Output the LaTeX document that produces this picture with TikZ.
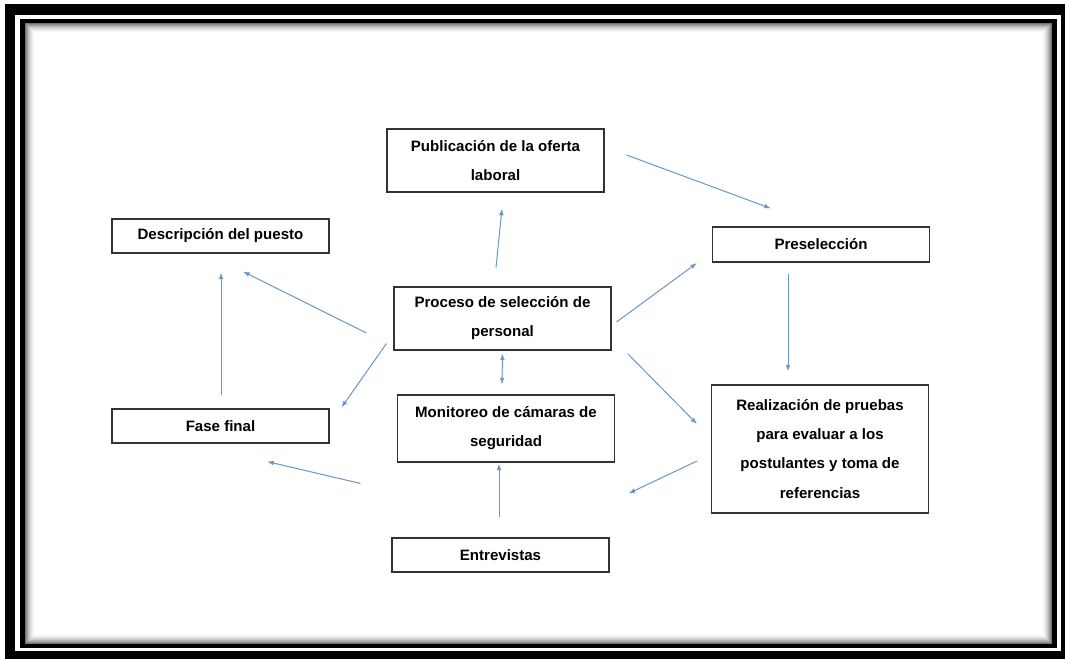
\documentclass[tikz,border=0pt]{standalone}
\usepackage{fontspec}
\setmainfont{Liberation Sans}
\usetikzlibrary{arrows.meta,positioning}
\usepackage{xcolor}
\definecolor{arrowblue}{RGB}{105,152,200}

\begin{document}
\begin{tikzpicture}[x=0.75pt,y=-0.75pt]
    \tikzstyle{block} = [rectangle, draw=black!80, line width=0.8pt, fill=white,
               minimum width=162.75pt, inner sep=0pt, align=center,
               font=\bfseries\fontsize{11.3}{21.8}\selectfont]
    \tikzstyle{line} = [draw=arrowblue, line width=0.75pt, -{Latex[length=5pt,width=3.6pt]}]
    \tikzstyle{dline} = [draw=arrowblue, line width=0.75pt,
               {Latex[length=5pt,width=3.6pt]}-{Latex[length=5pt,width=3.6pt]}]

    \useasboundingbox (0,0) rectangle (1065,659);

    % Frame
    \fill[black] (5,4) rectangle (1065,659);
    \fill[white] (15,15) rectangle (1061,651);
    \fill[black] (20,19) rectangle (1057,648);
    \foreach \i/\g in {0/55,1/45,2/36,3/28,4/21,5/15,6/10,7/6,8/3,9/1}
      \fill[black!\g] (25+\i,23+\i) rectangle (1052-\i,644-\i);
    \fill[white] (35,33) rectangle (1042,634);

    % Boxes
    \node[block, minimum height=47.25pt] (pub) at (495.5,160.5) {Publicación de la oferta\\laboral};
    \node[block, minimum height=25.5pt] (desc) at (220.5,236) {Descripción del puesto};
    \node[block, minimum height=26.25pt] (pre) at (821,244.5) {Preselección};
    \node[block, minimum height=47.25pt] (proc) at (502.5,318.5) {Proceso de selección de\\personal};
    \node[block, minimum height=50.25pt] (mon) at (506,428.5) {Monitoreo de cámaras de\\seguridad};
    \node[block, minimum height=25.5pt] (fase) at (220.5,426) {Fase final};
    \node[block, minimum height=96pt] (real) at (820,449)
      {Realización de pruebas\\para evaluar a los\\postulantes y toma de\\referencias};
    \node[block, minimum height=25.5pt] (ent) at (500.5,555) {Entrevistas};

    % Connectors
    \draw[line] ([shift={(-6.5,-19)}]proc.north) -- ([shift={(6.5,16)}]pub.south);
    \draw[line] ([shift={(22,-5.5)}]pub.east) -- ([shift={(59,-18)}]pre.north west);
    \draw[line] ([shift={(5,3.5)}]proc.east) -- ([shift={(-15,18.5)}]pre.west);
    \draw[line] ([shift={(-33,11)}]pre.south) -- ([shift={(-32,-13)}]real.north);
    \draw[line] ([shift={(16,3)}]proc.south east) -- ([shift={(-14,-25)}]real.west);
    \draw[line] ([shift={(-14,12)}]real.west) -- ([shift={(19,-44)}]ent.north east);
    \draw[line] ([shift={(-1.5,-20)}]ent.north) -- ([shift={(-7,1)}]mon.south);
    \draw[dline] ([shift={(0,3)}]proc.south) -- ([shift={(-4,-10)}]mon.north);
    \draw[line] ([shift={(-31,-54)}]ent.north west) -- ([shift={(46.5,18)}]fase.south);
    \draw[line] ([shift={(0.5,-13)}]fase.north) -- ([shift={(0.5,19)}]desc.south);
    \draw[line] ([shift={(-27,14.5)}]proc.west) -- ([shift={(22.5,18)}]desc.south);
    \draw[line] ([shift={(-7,-7)}]proc.south west) -- ([shift={(12,-1)}]fase.north east);

\end{tikzpicture}
\end{document}
